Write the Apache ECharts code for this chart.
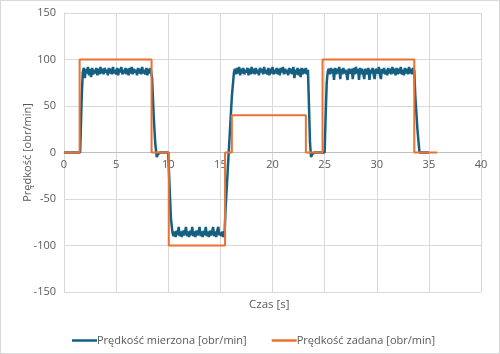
<!DOCTYPE html>
<html><head><meta charset="utf-8">
<script src="https://cdn.jsdelivr.net/npm/echarts@6/dist/echarts.min.js"></script>
<style>html,body{margin:0;padding:0;background:#fff}#c{width:498px;height:352px;border:1px solid #d9d9d9}</style>
</head><body><div id="c"></div>
<script>
const seriesNames = ['Prędkość mierzona [obr/min]', 'Prędkość zadana [obr/min]'];
const xAxisTitle = 'Czas [s]';
const yAxisTitle = 'Prędkość [obr/min]';
const xTicks = [0, 5, 10, 15, 20, 25, 30, 35, 40];
const yTicks = [-150, -100, -50, 0, 50, 100, 150];

// Setpoint speed (step profile)
const setTime  = [0, 1.5, 1.5, 8.4, 8.4, 10.05, 10.05, 15.45, 15.45, 16.1, 16.1, 23.2, 23.2, 24.8, 24.8, 33.6, 33.6, 35.8];
const setValue = [0, 0, 100, 100, 0, 0, -100, -100, 0, 0, 40, 40, 0, 0, 100, 100, 0, 0];

// Measured speed [time, value]
const measured = [
[0,0],[0.5,0],[1.0,0],[1.55,0],[1.6,20],[1.7,60],[1.8,86],
[1.9,91],[2.0,80],[2.1,90],[2.2,85],[2.3,92],[2.4,83],[2.5,90],[2.6,81],[2.7,91],[2.8,84],
[2.9,89],[3.0,85],[3.1,91],[3.2,83],[3.3,90],[3.4,84],[3.5,92],[3.6,85],[3.7,90],[3.8,84],
[3.9,91],[4.0,86],[4.1,89],[4.2,83],[4.3,91],[4.4,85],[4.5,90],[4.6,84],[4.7,92],[4.8,85],
[4.9,89],[5.0,84],[5.1,91],[5.2,83],[5.3,90],[5.4,86],[5.5,92],[5.6,84],[5.7,89],[5.8,85],
[5.9,91],[6.0,84],[6.1,90],[6.2,83],[6.3,91],[6.4,85],[6.5,92],[6.6,84],[6.7,90],[6.8,86],
[6.9,89],[7.0,83],[7.1,91],[7.2,85],[7.3,90],[7.4,84],[7.5,92],[7.6,85],[7.7,89],[7.8,84],
[7.9,91],[8.0,83],[8.1,90],[8.2,85],[8.3,91],[8.4,84],
[8.45,80],[8.6,40],[8.75,10],[8.9,-5],[9.0,-2],[9.2,0],[10.0,0],[10.1,-30],[10.25,-70],[10.4,-86],
[10.5,-90],[10.6,-85],[10.7,-91],[10.8,-84],[10.9,-89],[11.0,-80],[11.1,-90],[11.2,-85],[11.3,-91],[11.4,-84],
[11.5,-89],[11.6,-86],[11.7,-80],[11.8,-90],[11.9,-85],[12.0,-91],[12.1,-84],[12.2,-89],[12.3,-80],[12.4,-90],
[12.5,-85],[12.6,-91],[12.7,-84],[12.8,-89],[12.9,-86],[13.0,-80],[13.1,-90],[13.2,-85],[13.3,-91],[13.4,-84],
[13.5,-89],[13.6,-80],[13.7,-90],[13.8,-85],[13.9,-91],[14.0,-84],[14.1,-89],[14.2,-86],[14.3,-80],[14.4,-90],
[14.5,-85],[14.6,-91],[14.7,-84],[14.8,-80],[14.9,-89],[15.0,-86],[15.1,-90],[15.2,-85],[15.3,-91],[15.4,-88],
[15.5,-60],[15.7,-20],[15.9,20],[16.1,60],[16.3,86],
[16.4,90],[16.5,84],[16.6,91],[16.7,85],[16.8,92],[16.9,83],[17.0,90],[17.1,85],[17.2,91],[17.3,84],
[17.4,89],[17.5,86],[17.6,91],[17.7,83],[17.8,90],[17.9,84],[18.0,92],[18.1,85],[18.2,90],[18.3,84],
[18.4,91],[18.5,85],[18.6,89],[18.7,83],[18.8,91],[18.9,86],[19.0,90],[19.1,84],[19.2,92],[19.3,85],
[19.4,89],[19.5,84],[19.6,91],[19.7,83],[19.8,90],[19.9,85],[20.0,92],[20.1,84],[20.2,89],[20.3,85],
[20.4,91],[20.5,84],[20.6,90],[20.7,83],[20.8,91],[20.9,86],[21.0,92],[21.1,84],[21.2,90],[21.3,85],
[21.4,89],[21.5,83],[21.6,91],[21.7,85],[21.8,90],[21.9,84],[22.0,92],[22.1,80],[22.2,89],[22.3,84],
[22.4,91],[22.5,83],[22.6,90],[22.7,81],[22.8,91],[22.9,84],[23.0,90],[23.1,85],[23.2,91],[23.3,84],[23.4,89],
[23.5,50],[23.6,10],[23.7,-5],[23.8,-2],[24.0,0],[25.0,0],[25.1,40],[25.2,75],[25.3,87],
[25.4,90],[25.5,84],[25.6,91],[25.7,85],[25.8,90],[25.9,78],[26.0,91],[26.1,84],[26.2,90],[26.3,85],
[26.4,92],[26.5,79],[26.6,90],[26.7,84],[26.8,91],[26.9,85],[27.0,89],[27.1,84],[27.2,78],[27.3,90],
[27.4,91],[27.5,85],[27.6,90],[27.7,79],[27.8,91],[27.9,84],[28.0,92],[28.1,85],[28.2,90],[28.3,78],
[28.4,91],[28.5,84],[28.6,90],[28.7,85],[28.8,79],[28.9,90],[29.0,92],[29.1,84],[29.2,91],[29.3,78],
[29.4,89],[29.5,85],[29.6,91],[29.7,84],[29.8,79],[29.9,90],[30.0,91],[30.1,85],[30.2,92],[30.3,84],
[30.4,79],[30.5,90],[30.6,85],[30.7,91],[30.8,84],[30.9,89],[31.0,83],[31.1,91],[31.2,85],[31.3,90],
[31.4,84],[31.5,92],[31.6,85],[31.7,90],[31.8,83],[31.9,91],[32.0,84],[32.1,90],[32.2,85],[32.3,92],
[32.4,84],[32.5,89],[32.6,83],[32.7,91],[32.8,85],[32.9,90],[33.0,84],[33.1,92],[33.2,85],[33.3,90],
[33.4,84],[33.5,91],[33.6,88],
[33.7,60],[33.9,25],[34.1,0],[34.5,0],[35.0,0]
];

const setpoint = setTime.map((t, i) => [t, setValue[i]]);
const FONT = 'Open Sans';
const TXT = '#595959';
const GRID_TOP = 12, GRID_BOTTOM = 61, H = 352;
const chart = echarts.init(document.getElementById('c'), null, {renderer: 'canvas'});
chart.setOption({
  animation: false,
  textStyle: {fontFamily: FONT},
  title: {
    text: xAxisTitle, left: 248, top: 298, padding: [0, 0, 0, 0],
    textStyle: {color: TXT, fontSize: 11.5, fontWeight: 'normal', fontFamily: FONT}
  },
  grid: {left: 63, right: 18, top: GRID_TOP, bottom: GRID_BOTTOM, containLabel: false, outerBoundsMode: 'none'},
  xAxis: {
    type: 'value', min: xTicks[0], max: xTicks[xTicks.length - 1], interval: 5,
    position: 'bottom',
    offset: -((H - GRID_TOP - GRID_BOTTOM) / 2),
    axisLine: {onZero: false, lineStyle: {color: '#bfbfbf', width: 1}},
    axisTick: {show: false},
    axisLabel: {color: TXT, fontSize: 11, margin: 7, fontFamily: FONT},
    splitLine: {show: true, lineStyle: {color: '#d9d9d9', width: 1}}
  },
  yAxis: {
    type: 'value', min: yTicks[0], max: yTicks[yTicks.length - 1], interval: 50,
    name: yAxisTitle, nameLocation: 'middle', nameGap: 31, nameMoveOverlap: false,
    nameTextStyle: {color: TXT, fontSize: 11, fontFamily: FONT},
    axisLine: {show: true, onZero: false, lineStyle: {color: '#d9d9d9'}},
    axisTick: {show: false},
    axisLabel: {color: TXT, fontSize: 11, margin: 8, fontFamily: FONT},
    splitLine: {show: true, lineStyle: {color: '#d9d9d9', width: 1}}
  },
  legend: {
    left: 66, top: 329, itemWidth: 25, itemHeight: 2.5, itemGap: 25, icon: 'rect',
    textStyle: {color: TXT, fontSize: 11, fontFamily: FONT, padding: [0, 0, 0, -5]},
    data: seriesNames
  },
  series: [
    {name: seriesNames[0], type: 'line', data: measured, symbol: 'none',
     lineStyle: {color: '#156082', width: 2.5}, itemStyle: {color: '#156082'}, z: 2},
    {name: seriesNames[1], type: 'line', data: setpoint, symbol: 'none',
     lineStyle: {color: '#E97132', width: 2}, itemStyle: {color: '#E97132'}, z: 3}
  ]
});
</script></body></html>
